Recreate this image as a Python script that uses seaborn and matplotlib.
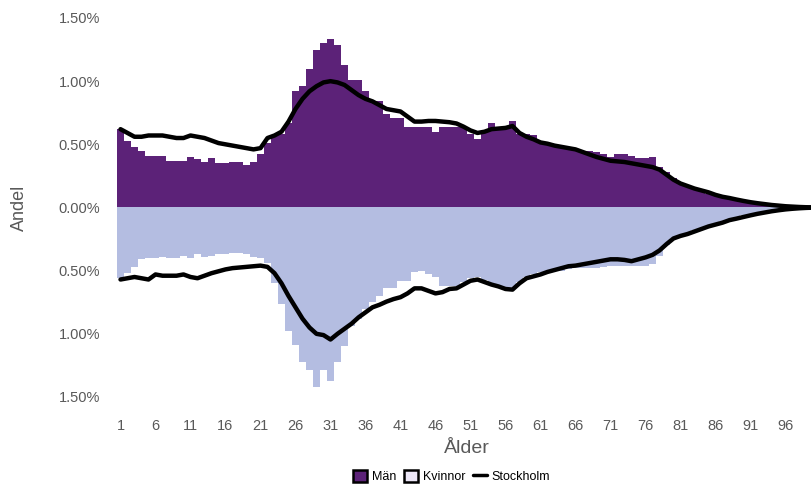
import numpy as np
import matplotlib
matplotlib.use('Agg')
import matplotlib.pyplot as plt
import seaborn as sns
from matplotlib.patches import Patch
from matplotlib.lines import Line2D
from matplotlib.ticker import FuncFormatter

# Andel per ålder (procent), ålder 1-100
ages = list(range(1, 101))

man = [0.62, 0.53, 0.48, 0.45, 0.41, 0.41, 0.41, 0.37, 0.37, 0.37,
       0.40, 0.38, 0.36, 0.39, 0.35, 0.35, 0.36, 0.36, 0.34, 0.36,
       0.42, 0.51, 0.57, 0.58, 0.67, 0.92, 0.96, 1.10, 1.25, 1.30,
       1.33, 1.29, 1.13, 1.01, 1.01, 0.92, 0.84, 0.84, 0.74, 0.71,
       0.71, 0.64, 0.64, 0.64, 0.64, 0.60, 0.64, 0.64, 0.64, 0.64,
       0.58, 0.54, 0.60, 0.67, 0.635, 0.635, 0.685, 0.58, 0.58, 0.57,
       0.52, 0.50, 0.49, 0.48, 0.47, 0.46, 0.45, 0.45, 0.44, 0.42,
       0.40, 0.42, 0.42, 0.41, 0.39, 0.39, 0.40, 0.32, 0.28, 0.23,
       0.19, 0.17, 0.15, 0.13, 0.11, 0.10, 0.08, 0.07, 0.06, 0.05,
       0.04, 0.03, 0.025, 0.02, 0.015, 0.01, 0.007, 0.005, 0.003, 0.002]

kvinnor = [0.56, 0.52, 0.47, 0.41, 0.40, 0.40, 0.39, 0.40, 0.40, 0.38,
           0.40, 0.37, 0.39, 0.38, 0.37, 0.37, 0.36, 0.36, 0.37, 0.39,
           0.40, 0.44, 0.60, 0.76, 0.98, 1.09, 1.22, 1.29, 1.42, 1.29,
           1.37, 1.22, 1.10, 0.94, 0.88, 0.80, 0.75, 0.70, 0.64, 0.635,
           0.585, 0.58, 0.51, 0.50, 0.53, 0.55, 0.62, 0.62, 0.62, 0.59,
           0.56, 0.55, 0.57, 0.60, 0.62, 0.64, 0.64, 0.59, 0.55, 0.53,
           0.51, 0.50, 0.50, 0.50, 0.49, 0.48, 0.48, 0.48, 0.48, 0.47,
           0.46, 0.46, 0.46, 0.46, 0.46, 0.46, 0.45, 0.38, 0.30, 0.24,
           0.22, 0.20, 0.18, 0.16, 0.145, 0.125, 0.105, 0.09, 0.075, 0.06,
           0.05, 0.04, 0.032, 0.025, 0.018, 0.012, 0.008, 0.005, 0.003, 0.002]

sthlm_man = [0.62, 0.59, 0.56, 0.56, 0.57, 0.57, 0.57, 0.56, 0.55, 0.55,
             0.57, 0.56, 0.55, 0.53, 0.51, 0.50, 0.49, 0.48, 0.47, 0.46,
             0.47, 0.55, 0.57, 0.60, 0.68, 0.78, 0.86, 0.92, 0.96, 0.99,
             1.00, 0.99, 0.97, 0.93, 0.89, 0.86, 0.84, 0.81, 0.78, 0.77,
             0.76, 0.72, 0.68, 0.68, 0.685, 0.685, 0.68, 0.675, 0.665, 0.64,
             0.61, 0.59, 0.60, 0.62, 0.625, 0.63, 0.645, 0.59, 0.56, 0.54,
             0.515, 0.505, 0.49, 0.48, 0.47, 0.46, 0.44, 0.42, 0.40, 0.385,
             0.37, 0.365, 0.36, 0.35, 0.34, 0.33, 0.32, 0.30, 0.26, 0.22,
             0.19, 0.17, 0.15, 0.135, 0.12, 0.10, 0.085, 0.075, 0.063, 0.052,
             0.042, 0.034, 0.027, 0.02, 0.015, 0.01, 0.007, 0.004, 0.002, 0.001]

sthlm_kvinnor = [0.57, 0.56, 0.55, 0.56, 0.57, 0.53, 0.54, 0.54, 0.54, 0.53,
                 0.55, 0.56, 0.54, 0.52, 0.505, 0.49, 0.48, 0.475, 0.47, 0.465,
                 0.46, 0.47, 0.52, 0.60, 0.70, 0.79, 0.88, 0.95, 1.00, 1.01,
                 1.045, 1.00, 0.96, 0.92, 0.87, 0.83, 0.79, 0.77, 0.745, 0.725,
                 0.71, 0.68, 0.64, 0.64, 0.66, 0.68, 0.67, 0.645, 0.64, 0.61,
                 0.58, 0.57, 0.59, 0.61, 0.625, 0.645, 0.65, 0.60, 0.56, 0.545,
                 0.53, 0.51, 0.495, 0.48, 0.465, 0.46, 0.45, 0.44, 0.43, 0.42,
                 0.41, 0.41, 0.415, 0.425, 0.41, 0.395, 0.375, 0.34, 0.29, 0.245,
                 0.225, 0.21, 0.19, 0.17, 0.15, 0.135, 0.12, 0.10, 0.088, 0.075,
                 0.062, 0.05, 0.04, 0.03, 0.022, 0.015, 0.01, 0.006, 0.003, 0.001]

tick_ages = list(range(1, 97, 5))

c_man = '#5c2278'
c_kv = '#b4bde1'
c_text = '#595959'

sns.set_style('white')
plt.rcParams['font.family'] = ['Liberation Sans', 'DejaVu Sans']

fig = plt.figure(figsize=(8.11, 4.92), dpi=100)
ax = fig.add_axes([117 / 811, 1 - 397 / 492, (817 - 117) / 811, (397 - 18) / 492])

sns.barplot(x=ages, y=man, native_scale=True, width=1, color=c_man,
            saturation=1, linewidth=0, errorbar=None, ax=ax)
sns.barplot(x=ages, y=[-v for v in kvinnor], native_scale=True, width=1, color=c_kv,
            saturation=1, linewidth=0, errorbar=None, ax=ax)
sns.lineplot(x=ages, y=sthlm_man, color='black', lw=3.2, ax=ax)
sns.lineplot(x=ages, y=[-v for v in sthlm_kvinnor], color='black', lw=3.2, ax=ax)

ax.set_xlim(0.5, 100.5)
ax.set_ylim(-1.5, 1.5)
ax.set_yticks([-1.5, -1.0, -0.5, 0, 0.5, 1.0, 1.5])
ax.yaxis.set_major_formatter(FuncFormatter(lambda v, p: f'{abs(v):.2f}%'))
ax.set_xticks(tick_ages)
ax.set_xticklabels([str(a) for a in tick_ages])
ax.tick_params(axis='both', colors=c_text, labelsize=10.5, length=0)
ax.tick_params(axis='x', pad=16)
ax.tick_params(axis='y', pad=12)
for s in ax.spines.values():
    s.set_visible(False)

ax.set_xlabel('Ålder', color=c_text, fontsize=14, labelpad=5)
ax.set_ylabel('Andel', color=c_text, fontsize=13, labelpad=22)

handles = [Patch(facecolor=c_man, edgecolor='black', linewidth=1.8),
           Patch(facecolor='#ece6f6', edgecolor='black', linewidth=1.8),
           Line2D([0], [0], color='black', lw=2.5)]
fig.legend(handles, ['Män', 'Kvinnor', 'Stockholm'], loc='lower center',
           bbox_to_anchor=(0.557, -0.005), ncol=3, frameon=False, fontsize=9,
           handlelength=1.1, handleheight=1.1, handletextpad=0.4,
           columnspacing=0.6, labelcolor='black')

fig.savefig('out.png', dpi=100)
